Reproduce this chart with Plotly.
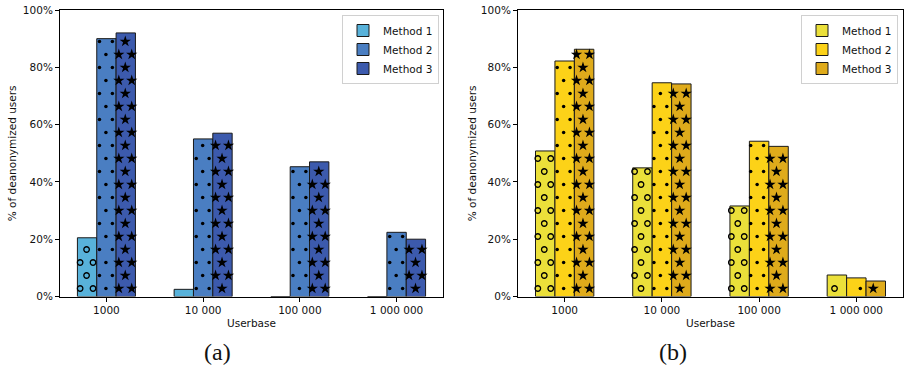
import plotly.graph_objects as go

# ---------------- data ----------------
categories = ["1000", "10 000", "100 000", "1 000 000"]
methods = ["Method 1", "Method 2", "Method 3"]

a_method1 = [20.5, 2.5, 0.0, 0.0]
a_method2 = [90.0, 55.0, 45.3, 22.4]
a_method3 = [92.0, 57.0, 47.0, 20.0]

b_method1 = [50.8, 44.9, 31.6, 7.5]
b_method2 = [82.2, 74.6, 54.2, 6.5]
b_method3 = [86.3, 74.2, 52.4, 5.4]

y_tick_values = [0, 20, 40, 60, 80, 100]
y_tick_labels = ["0%", "20%", "40%", "60%", "80%", "100%"]

# ---------------- style ----------------
W, H = 908, 368
colors_a = ["#58b2da", "#4a7ec2", "#3c5aad"]
colors_b = ["#ebe03a", "#fcd218", "#dfab1b"]
bar_w = 0.2
offsets = [-0.2, 0.0, 0.2]
FONT = "DejaVu Sans"

# pixel geometry of the panels
x_range = [-0.48, 3.48]
left_px = (60, 443)
right_px = (518, 903)
top_px, base_px = 10, 296.5
PX_Y = (base_px - top_px) / 100.0          # px per percent

# hatch-like lattice (px)
ROW0, ROW_STEP, COL_STEP = 8.0, 13.0, 12.9
markers = [
    dict(symbol="circle-open", size=5.5, color="black", line=dict(width=1.3, color="black")),
    dict(symbol="circle", size=3.5, color="black", line=dict(width=0)),
    dict(symbol="star", size=8.5, color="black", line=dict(width=0)),
]

fig = go.Figure()


def lattice(vals, offset, px_per_unit, xA0):
    xs, ys = [], []
    for i, v in enumerate(vals):
        left = i + offset - bar_w / 2
        right = i + offset + bar_w / 2
        h_px = v * PX_Y
        k = 0
        while True:
            yp = ROW0 + ROW_STEP * k
            if yp > h_px - 2:
                break
            shift = 0.0 if k % 2 == 0 else COL_STEP / 2
            for m in range(-80, 80):
                xc = xA0 + (shift + COL_STEP * m) / px_per_unit
                if left + 1.0 / px_per_unit <= xc <= right - 1.0 / px_per_unit:
                    xs.append(xc)
                    ys.append(yp / PX_Y)
            k += 1
    return xs, ys


panels = [
    ([a_method1, a_method2, a_method3], colors_a, "x", "y", "legend", left_px, -0.272),
    ([b_method1, b_method2, b_method3], colors_b, "x2", "y2", "legend2", right_px, -0.276),
]

for series, cols, xa, ya, leg, (p0, p1), xA0 in panels:
    ppu = (p1 - p0) / (x_range[1] - x_range[0])
    for j, vals in enumerate(series):
        xs = [i + offsets[j] for i in range(len(categories))]
        fig.add_trace(go.Bar(
            x=xs, y=vals, width=bar_w, name=methods[j],
            marker=dict(color=cols[j], line=dict(color="#1a1a1a", width=1)),
            xaxis=xa, yaxis=ya, legend=leg, hoverinfo="skip",
        ))
    for j, vals in enumerate(series):
        mx, my = lattice(vals, offsets[j], ppu, xA0)
        fig.add_trace(go.Scatter(
            x=mx, y=my, mode="markers", marker=markers[j],
            xaxis=xa, yaxis=ya, showlegend=False, hoverinfo="skip",
        ))

ydom = [1 - base_px / H, 1 - top_px / H]

axis_common = dict(
    showline=True, mirror=True, linecolor="black", linewidth=1,
    ticks="outside", ticklen=4, tickcolor="black", tickwidth=1,
    showgrid=False, zeroline=False, automargin=False,
    tickfont=dict(family=FONT, size=10.5, color="#111"),
)

legend_common = dict(
    xanchor="right", y=1 - 15 / H, yanchor="top",
    bgcolor="white", bordercolor="#d0d0d0", borderwidth=1,
    font=dict(family=FONT, size=10.5, color="#111"), tracegroupgap=0,
    itemwidth=30,
)

fig.update_layout(
    width=W, height=H, autosize=False,
    margin=dict(l=0, r=0, t=0, b=0, pad=0, autoexpand=False),
    paper_bgcolor="white", plot_bgcolor="white",
    barmode="overlay", showlegend=True,
    xaxis=dict(domain=[left_px[0] / W, left_px[1] / W], range=x_range,
               tickvals=[0, 1, 2, 3], ticktext=categories, anchor="y", **axis_common),
    yaxis=dict(domain=ydom, range=[0, 100], tickvals=y_tick_values,
               ticktext=y_tick_labels, anchor="x", **axis_common),
    xaxis2=dict(domain=[right_px[0] / W, right_px[1] / W], range=x_range,
                tickvals=[0, 1, 2, 3], ticktext=categories, anchor="y2", **axis_common),
    yaxis2=dict(domain=ydom, range=[0, 100], tickvals=y_tick_values,
                ticktext=y_tick_labels, anchor="x2", **axis_common),
    legend=dict(x=439 / W, **legend_common),
    legend2=dict(x=898 / W, **legend_common),
)

ann_font = dict(family=FONT, size=10.5, color="#111")
for xc in (12, 472):
    fig.add_annotation(text="% of deanonymized users", textangle=-90,
                       x=xc / W, y=1 - ((top_px + base_px) / 2) / H,
                       xref="paper", yref="paper", showarrow=False,
                       xanchor="center", yanchor="middle", font=ann_font)
for xc in ((left_px[0] + left_px[1]) / 2, (right_px[0] + right_px[1]) / 2):
    fig.add_annotation(text="Userbase", x=xc / W, y=1 - 323 / H,
                       xref="paper", yref="paper", showarrow=False,
                       xanchor="center", yanchor="middle", font=ann_font)
for txt, xc in (("(a)", 217), ("(b)", 673)):
    fig.add_annotation(text=txt, x=xc / W, y=1 - 352 / H,
                       xref="paper", yref="paper", showarrow=False,
                       xanchor="center", yanchor="middle",
                       font=dict(family="Liberation Serif", size=24, color="#111"))

fig.write_html(
    "out.html",
    config={"displayModeBar": False},
    post_script="document.body.style.margin='0px';document.body.style.overflow='hidden';",
)
